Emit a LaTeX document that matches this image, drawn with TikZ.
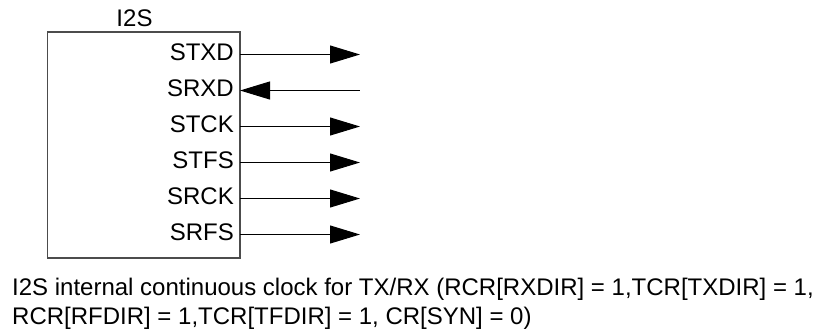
\documentclass[tikz,border=0pt]{standalone}
\usepackage{fontspec}
\setmainfont{Liberation Sans}
\usetikzlibrary{arrows.meta}

\begin{document}
\begin{tikzpicture}[
  x=1pt, y=-1pt,
  font=\fontsize{24}{29}\selectfont,
  block/.style={draw=black!70, line width=1.5pt, minimum width=192.5pt, minimum height=226pt, inner sep=0pt},
  pin/.style={anchor=base east, inner sep=0pt},
  sig/.style={-{Triangle[length=30pt, width=18pt]}, line width=1pt},
  sigin/.style={{Triangle[length=30pt, width=18pt]}-, line width=1pt}
]
\useasboundingbox (0,0) rectangle (815,333);
\node[block] (i2s) at (143.75,145) {};
\node[anchor=base, inner sep=0pt] (title) at (134.5,26) {I2S};

% signal pins
\foreach \name/\y in {stxd/54.5, srxd/90.5, stck/126.5, stfs/162.5, srck/198.5, srfs/234.5} {
  \coordinate (\name-in) at (240,\y);
  \coordinate (\name-out) at (360,\y);
}
\node[pin] (lbl-stxd) at (234,60) {STXD};
\node[pin] (lbl-srxd) at (234,96) {SRXD};
\node[pin] (lbl-stck) at (234,132) {STCK};
\node[pin] (lbl-stfs) at (234,168) {STFS};
\node[pin] (lbl-srck) at (234,204) {SRCK};
\node[pin] (lbl-srfs) at (234,240) {SRFS};

\draw[sig] (stxd-in) -- (stxd-out);
\draw[sigin] (srxd-in) -- (srxd-out);
\foreach \name in {stck, stfs, srck, srfs}
  \draw[sig] (\name-in) -- (\name-out);

\node[anchor=north west, inner sep=0pt, align=left] (caption) at (12,278)
  {I2S internal continuous clock for TX/RX (RCR[RXDIR] = 1,TCR[TXDIR] = 1,\\
   RCR[RFDIR] = 1,TCR[TFDIR] = 1, CR[SYN] = 0)};
\end{tikzpicture}
\end{document}
